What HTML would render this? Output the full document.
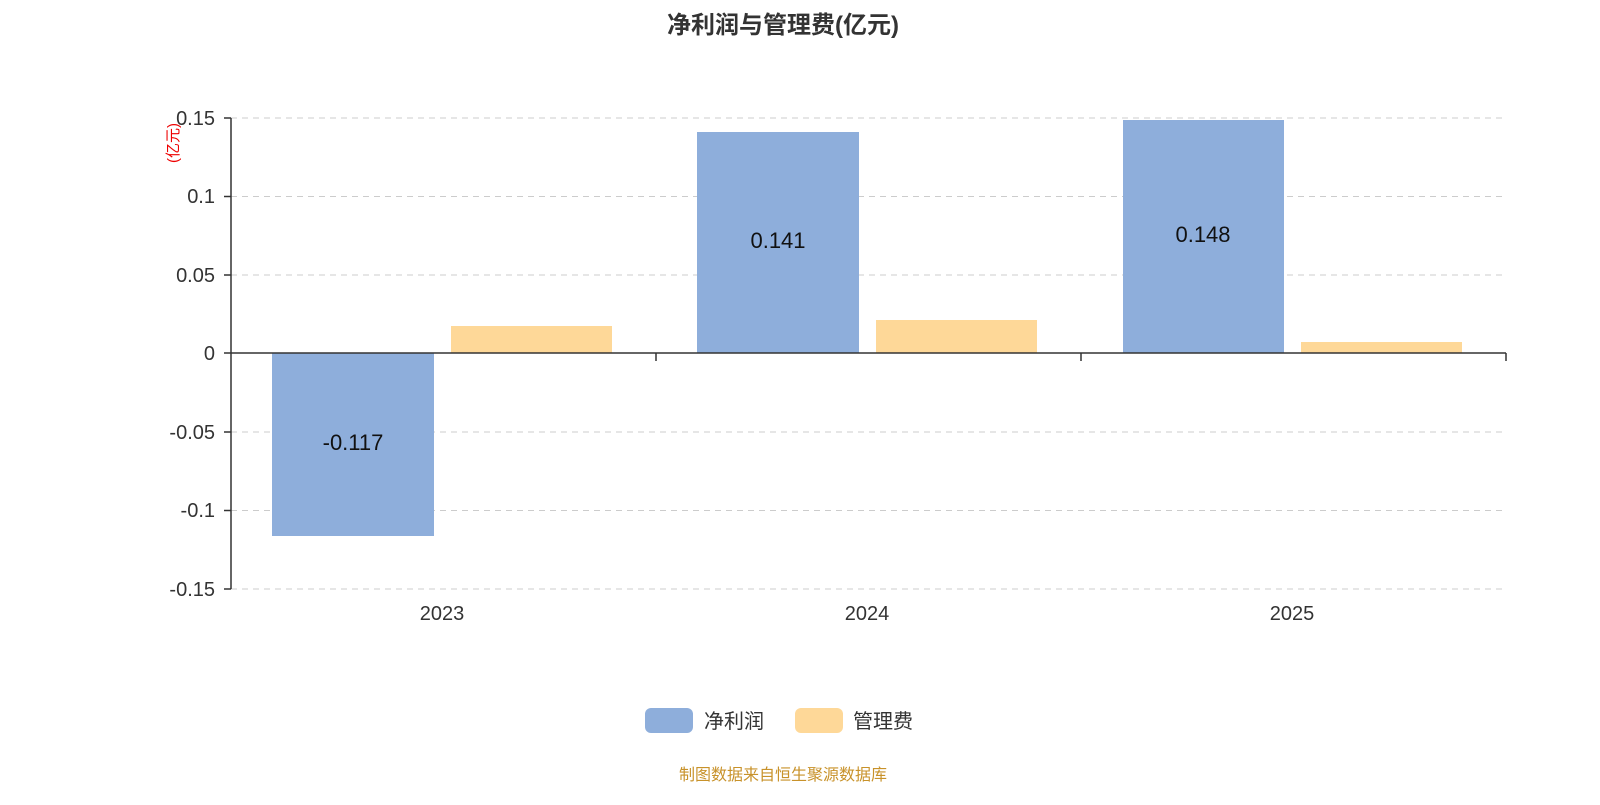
<!DOCTYPE html>
<html><head><meta charset="utf-8"><style>
body{margin:0;background:#fff;width:1600px;height:800px;overflow:hidden}
svg text{font-family:"Liberation Sans","Noto Sans CJK SC",sans-serif}
</style></head><body>
<svg width="1600" height="800" xmlns="http://www.w3.org/2000/svg">
<text x="783" y="33" text-anchor="middle" font-size="24" font-weight="bold" fill="#333">净利润与管理费(亿元)</text>
<g stroke="#ccc" stroke-dasharray="6,5" stroke-width="1">
<line x1="231" y1="118" x2="1506" y2="118"/>
<line x1="231" y1="196.5" x2="1506" y2="196.5"/>
<line x1="231" y1="275" x2="1506" y2="275"/>
<line x1="231" y1="432" x2="1506" y2="432"/>
<line x1="231" y1="510.5" x2="1506" y2="510.5"/>
<line x1="231" y1="589" x2="1506" y2="589"/>
</g>
<g fill="#8eaedb">
<rect x="272" y="353" width="162" height="183"/>
<rect x="697" y="132" width="162" height="221"/>
<rect x="1123" y="120" width="161" height="233"/>
</g>
<g fill="#fed898">
<rect x="451" y="326" width="161" height="27"/>
<rect x="876" y="320" width="161" height="33"/>
<rect x="1301" y="342" width="161" height="11"/>
</g>
<g stroke="#333" stroke-width="1.5">
<line x1="231" y1="118" x2="231" y2="589"/>
<line x1="231" y1="353" x2="1506" y2="353"/>
<line x1="224" y1="118" x2="231" y2="118"/><line x1="224" y1="196.5" x2="231" y2="196.5"/>
<line x1="224" y1="275" x2="231" y2="275"/><line x1="224" y1="353" x2="231" y2="353"/>
<line x1="224" y1="432" x2="231" y2="432"/><line x1="224" y1="510.5" x2="231" y2="510.5"/>
<line x1="224" y1="589" x2="231" y2="589"/>
<line x1="656" y1="353" x2="656" y2="361"/><line x1="1081" y1="353" x2="1081" y2="361"/><line x1="1506" y1="353" x2="1506" y2="361"/>
</g>
<g font-size="20" fill="#333" text-anchor="end">
<text x="215" y="125">0.15</text><text x="215" y="203">0.1</text><text x="215" y="282">0.05</text>
<text x="215" y="360">0</text><text x="215" y="439">-0.05</text><text x="215" y="517">-0.1</text><text x="215" y="596">-0.15</text>
</g>
<text transform="translate(178,143) rotate(-90)" font-size="15" fill="#e00" text-anchor="middle">(亿元)</text>
<g font-size="20" fill="#333" text-anchor="middle">
<text x="442" y="620">2023</text><text x="867" y="620">2024</text><text x="1292" y="620">2025</text>
</g>
<g font-size="22" fill="#111" text-anchor="middle">
<text x="353" y="450">-0.117</text><text x="778" y="248">0.141</text><text x="1203" y="242">0.148</text>
</g>
<rect x="645" y="708" width="48" height="25" rx="6" fill="#8eaedb"/>
<text x="704" y="728" font-size="20" fill="#333">净利润</text>
<rect x="795" y="708" width="48" height="25" rx="6" fill="#fed898"/>
<text x="853" y="728" font-size="20" fill="#333">管理费</text>
<text x="783" y="780" text-anchor="middle" font-size="16" fill="#c8922a">制图数据来自恒生聚源数据库</text>
</svg>
</body></html>
